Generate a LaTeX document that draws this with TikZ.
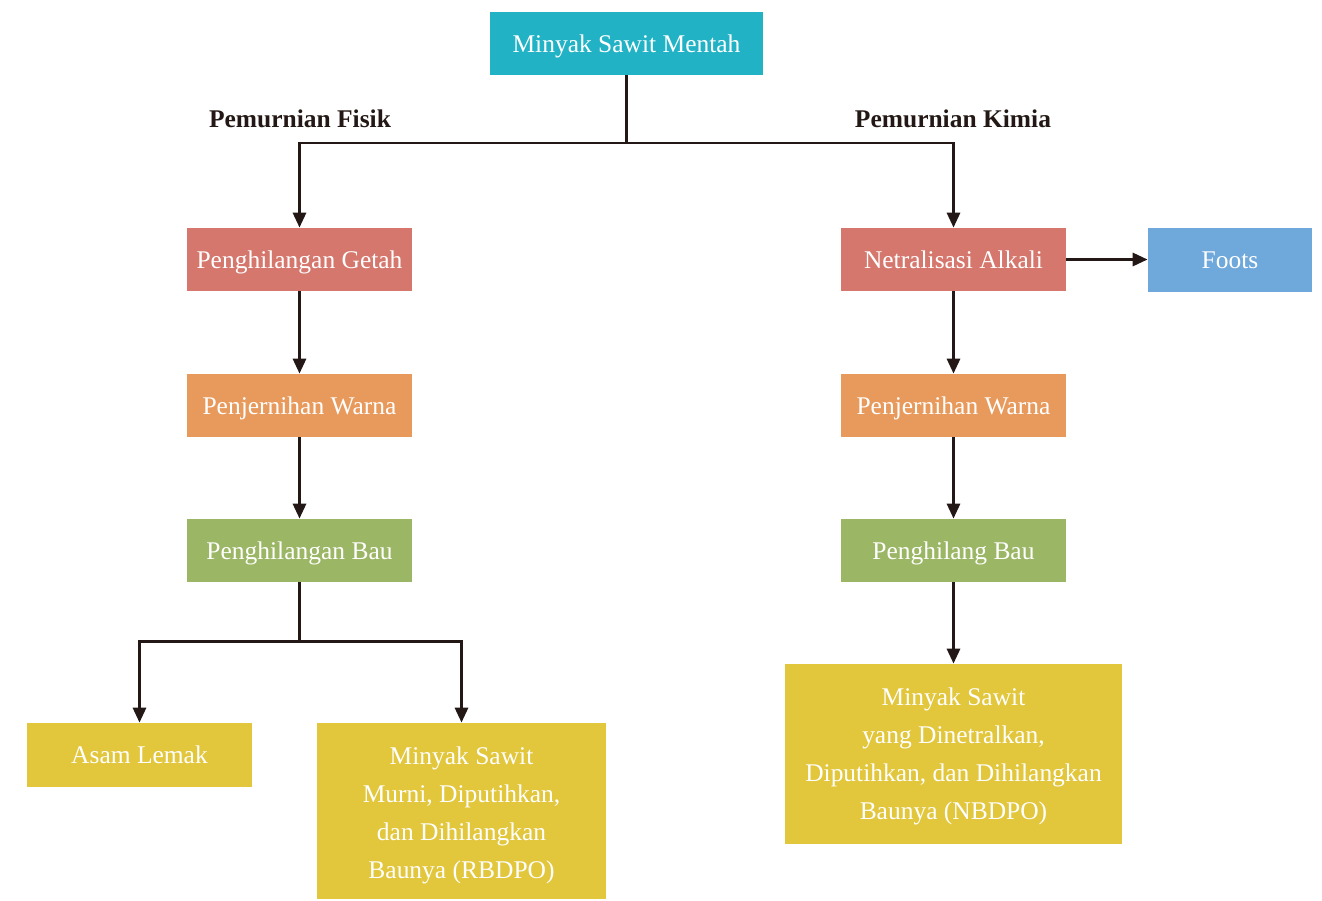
\documentclass[tikz,border=0pt]{standalone}
\usepackage{fontspec}
\setmainfont{Liberation Serif}
\usetikzlibrary{arrows.meta}
\definecolor{lineC}{HTML}{231815}
\definecolor{tealC}{HTML}{21B3C5}
\definecolor{salmonC}{HTML}{D5776D}
\definecolor{orangeC}{HTML}{E89A5C}
\definecolor{greenC}{HTML}{9BB664}
\definecolor{yellowC}{HTML}{E2C63B}
\definecolor{blueC}{HTML}{6FA8DB}
\begin{document}
\begin{tikzpicture}[x=0.02cm,y=-0.02cm,
  box/.style={inner sep=0pt,text=white,
    font=\fontsize{14.5}{21.8}\selectfont,
    minimum width=225*0.02cm,minimum height=63*0.02cm},
  onebox/.style={box,text height=13pt,text depth=3pt},
  multibox/.style={box,align=center},
  lbl/.style={inner sep=0pt,text=lineC,font=\fontsize{14.5}{17}\selectfont\bfseries},
  conn/.style={draw=lineC,line width=1.7pt},
  arr/.style={conn,-{Triangle[length=0.3cm,width=0.26cm]}}]
\useasboundingbox (0,0) rectangle (1322,900);
% top
\node [onebox,fill=tealC,minimum width=273*0.02cm] (crude) at (626.5,43.5) {Minyak Sawit Mentah};
\node [lbl] (fisik) at (300,119) {Pemurnian Fisik};
\node [lbl] (kimia) at (953,119) {Pemurnian Kimia};
\coordinate (split) at (626.5,143);
% physical
\node [onebox,fill=salmonC] (getah) at (299.5,259.5) {Penghilangan Getah};
\node [onebox,fill=orangeC] (warnaL) at (299.5,405.5) {Penjernihan Warna};
\node [onebox,fill=greenC] (bauL) at (299.5,550.5) {Penghilangan Bau};
\coordinate (splitB) at (299.5,641);
\node [onebox,fill=yellowC,minimum height=64*0.02cm] (asam) at (139.5,755) {Asam Lemak};
\node [multibox,fill=yellowC,minimum width=289*0.02cm,minimum height=176*0.02cm] (rbdpo) at (461.5,811)
  {\rule{0pt}{1.04em}Minyak Sawit\\Murni, Diputihkan,\\dan Dihilangkan\\Baunya (RBDPO)};
% chemical
\node [onebox,fill=salmonC] (netral) at (953.5,259.5) {Netralisasi Alkali};
\node [onebox,fill=blueC,minimum width=164*0.02cm,minimum height=64*0.02cm] (foots) at (1230,259.5) {Foots};
\node [onebox,fill=orangeC] (warnaR) at (953.5,405.5) {Penjernihan Warna};
\node [onebox,fill=greenC] (bauR) at (953.5,550.5) {Penghilang Bau};
\node [multibox,fill=yellowC,minimum width=337*0.02cm,minimum height=180*0.02cm] (nbdpo) at (953.5,754)
  {\rule{0pt}{0.88em}Minyak Sawit\\yang Dinetralkan,\\Diputihkan, dan Dihilangkan\\Baunya (NBDPO)};
% connectors
\draw [conn] (crude) -- (split);
\draw [arr] (split) -| (getah.north);
\draw [arr] (split) -| (netral.north);
\draw [arr] (getah) -- (warnaL);
\draw [arr] (warnaL) -- (bauL);
\draw [conn] (bauL) -- (splitB);
\draw [arr] (splitB) -| (asam.north);
\draw [arr] (splitB) -| (rbdpo.north);
\draw [arr] (netral) -- (foots);
\draw [arr] (netral) -- (warnaR);
\draw [arr] (warnaR) -- (bauR);
\draw [arr] (bauR) -- (nbdpo);
\end{tikzpicture}
\end{document}
